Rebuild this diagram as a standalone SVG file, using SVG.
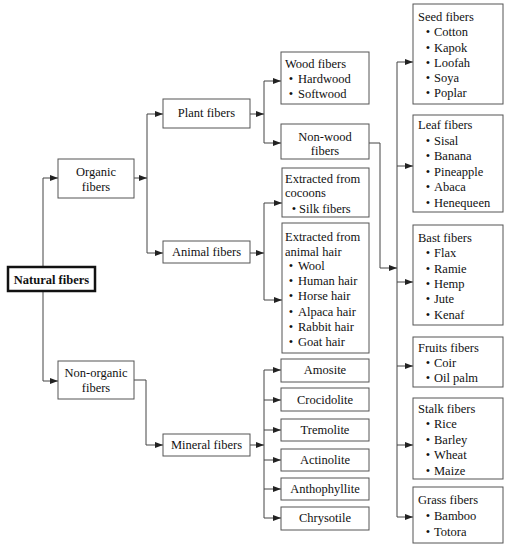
<svg xmlns="http://www.w3.org/2000/svg" width="509" height="550" viewBox="0 0 509 550">
<style>
.c{text-anchor:middle}
.b{font-weight:bold}
rect{fill:#fff;stroke:#555;stroke-width:1}
.thick{stroke:#111;stroke-width:2.5}
.conn path{fill:none;stroke:#444;stroke-width:1}
</style>
<defs>
<marker id="ar" viewBox="0 0 8 6" refX="8" refY="3" markerWidth="8" markerHeight="6" markerUnits="userSpaceOnUse" orient="auto"><path d="M0,0L8,3L0,6z" fill="#222"/></marker>
</defs>
<rect x="0" y="0" width="509" height="550" style="fill:#fff;stroke:none"/>
<g class="conn">
<path d="M43,267V178H58" marker-end="url(#ar)"/>
<path d="M43,291V381H58" marker-end="url(#ar)"/>
<path d="M134,178H147" marker-end="url(#ar)"/>
<path d="M147,114V253"/>
<path d="M147,114H163" marker-end="url(#ar)"/>
<path d="M147,253H163" marker-end="url(#ar)"/>
<path d="M250,114H264" marker-end="url(#ar)"/>
<path d="M264,81V143"/>
<path d="M264,81H281" marker-end="url(#ar)"/>
<path d="M264,143H281" marker-end="url(#ar)"/>
<path d="M250,253H264" marker-end="url(#ar)"/>
<path d="M264,203V300"/>
<path d="M264,203H282" marker-end="url(#ar)"/>
<path d="M264,300H282" marker-end="url(#ar)"/>
<path d="M134,380H146V445H163" marker-end="url(#ar)"/>
<path d="M250,445H264" marker-end="url(#ar)"/>
<path d="M264,370V518"/>
<path d="M264,370H281" marker-end="url(#ar)"/>
<path d="M264,400H281" marker-end="url(#ar)"/>
<path d="M264,430H281" marker-end="url(#ar)"/>
<path d="M264,460H281" marker-end="url(#ar)"/>
<path d="M264,489H281" marker-end="url(#ar)"/>
<path d="M264,518H281" marker-end="url(#ar)"/>
<path d="M369,143H380V268H397" marker-end="url(#ar)"/>
<path d="M397,62V517"/>
<path d="M397,62H413" marker-end="url(#ar)"/>
<path d="M397,166H413" marker-end="url(#ar)"/>
<path d="M397,282H413" marker-end="url(#ar)"/>
<path d="M397,366H413" marker-end="url(#ar)"/>
<path d="M397,445H413" marker-end="url(#ar)"/>
<path d="M397,517H413" marker-end="url(#ar)"/>
</g>
<g id="natural"><rect class="thick" x="8" y="267" width="87" height="24"/><text style="font-family:'Liberation Serif',serif;font-size:12.5px;fill:#111" class="c b" x="51.5" y="284">Natural fibers</text></g>
<g id="organic"><rect x="58" y="159" width="76" height="39"/><text style="font-family:'Liberation Serif',serif;font-size:12.5px;fill:#111" class="c" x="96" y="176">Organic</text><text style="font-family:'Liberation Serif',serif;font-size:12.5px;fill:#111" class="c" x="96" y="191">fibers</text></g>
<g id="nonorganic"><rect x="58" y="361" width="76" height="38"/><text style="font-family:'Liberation Serif',serif;font-size:12.5px;fill:#111" class="c" x="96" y="377">Non-organic</text><text style="font-family:'Liberation Serif',serif;font-size:12.5px;fill:#111" class="c" x="96" y="392">fibers</text></g>
<g id="plant"><rect x="163" y="99" width="87" height="29"/><text style="font-family:'Liberation Serif',serif;font-size:12.5px;fill:#111" class="c" x="206.5" y="117">Plant fibers</text></g>
<g id="animal"><rect x="163" y="241" width="87" height="22"/><text style="font-family:'Liberation Serif',serif;font-size:12.5px;fill:#111" class="c" x="206.5" y="256">Animal fibers</text></g>
<g id="mineral"><rect x="163" y="434" width="87" height="22"/><text style="font-family:'Liberation Serif',serif;font-size:12.5px;fill:#111" class="c" x="206.5" y="449">Mineral fibers</text></g>
<g id="wood"><rect x="281" y="52" width="88" height="52"/><text style="font-family:'Liberation Serif',serif;font-size:12.5px;fill:#111" x="285" y="68">Wood fibers</text><text style="font-family:'Liberation Serif',serif;font-size:12.5px;fill:#111" x="291" y="83" class="c">•</text><text style="font-family:'Liberation Serif',serif;font-size:12.5px;fill:#111" x="298" y="83">Hardwood</text><text style="font-family:'Liberation Serif',serif;font-size:12.5px;fill:#111" x="291" y="98" class="c">•</text><text style="font-family:'Liberation Serif',serif;font-size:12.5px;fill:#111" x="298" y="98">Softwood</text></g>
<g id="nonwood"><rect x="281" y="124" width="88" height="35"/><text style="font-family:'Liberation Serif',serif;font-size:12.5px;fill:#111" class="c" x="325" y="141">Non-wood</text><text style="font-family:'Liberation Serif',serif;font-size:12.5px;fill:#111" class="c" x="325" y="155">fibers</text></g>
<g id="cocoons"><rect x="282" y="168" width="87" height="49"/><text style="font-family:'Liberation Serif',serif;font-size:12.5px;fill:#111" x="285" y="183">Extracted from</text><text style="font-family:'Liberation Serif',serif;font-size:12.5px;fill:#111" x="285" y="197">cocoons</text><text style="font-family:'Liberation Serif',serif;font-size:12.5px;fill:#111" x="294" y="213" class="c">•</text><text style="font-family:'Liberation Serif',serif;font-size:12.5px;fill:#111" x="299" y="213">Silk fibers</text></g>
<g id="hair"><rect x="282" y="223" width="87" height="130"/><text style="font-family:'Liberation Serif',serif;font-size:12.5px;fill:#111" x="285" y="241">Extracted from</text><text style="font-family:'Liberation Serif',serif;font-size:12.5px;fill:#111" x="285" y="256">animal hair</text>
<text style="font-family:'Liberation Serif',serif;font-size:12.5px;fill:#111" x="291" y="270" class="c">•</text><text style="font-family:'Liberation Serif',serif;font-size:12.5px;fill:#111" x="298" y="270">Wool</text>
<text style="font-family:'Liberation Serif',serif;font-size:12.5px;fill:#111" x="291" y="285" class="c">•</text><text style="font-family:'Liberation Serif',serif;font-size:12.5px;fill:#111" x="298" y="285">Human hair</text>
<text style="font-family:'Liberation Serif',serif;font-size:12.5px;fill:#111" x="291" y="300" class="c">•</text><text style="font-family:'Liberation Serif',serif;font-size:12.5px;fill:#111" x="298" y="300">Horse hair</text>
<text style="font-family:'Liberation Serif',serif;font-size:12.5px;fill:#111" x="291" y="316" class="c">•</text><text style="font-family:'Liberation Serif',serif;font-size:12.5px;fill:#111" x="298" y="316">Alpaca hair</text>
<text style="font-family:'Liberation Serif',serif;font-size:12.5px;fill:#111" x="291" y="331" class="c">•</text><text style="font-family:'Liberation Serif',serif;font-size:12.5px;fill:#111" x="298" y="331">Rabbit hair</text>
<text style="font-family:'Liberation Serif',serif;font-size:12.5px;fill:#111" x="291" y="346" class="c">•</text><text style="font-family:'Liberation Serif',serif;font-size:12.5px;fill:#111" x="298" y="346">Goat hair</text></g>
<g id="amosite"><rect x="281" y="359" width="88" height="23"/><text style="font-family:'Liberation Serif',serif;font-size:12.5px;fill:#111" class="c" x="325" y="374">Amosite</text></g>
<g id="crocidolite"><rect x="281" y="388" width="88" height="23"/><text style="font-family:'Liberation Serif',serif;font-size:12.5px;fill:#111" class="c" x="325" y="404">Crocidolite</text></g>
<g id="tremolite"><rect x="281" y="419" width="88" height="22"/><text style="font-family:'Liberation Serif',serif;font-size:12.5px;fill:#111" class="c" x="325" y="434">Tremolite</text></g>
<g id="actinolite"><rect x="281" y="449" width="88" height="22"/><text style="font-family:'Liberation Serif',serif;font-size:12.5px;fill:#111" class="c" x="325" y="464">Actinolite</text></g>
<g id="anthophyllite"><rect x="281" y="478" width="88" height="22"/><text style="font-family:'Liberation Serif',serif;font-size:12.5px;fill:#111" class="c" x="325" y="493">Anthophyllite</text></g>
<g id="chrysotile"><rect x="281" y="507" width="88" height="23"/><text style="font-family:'Liberation Serif',serif;font-size:12.5px;fill:#111" class="c" x="325" y="522">Chrysotile</text></g>
<g id="seed"><rect x="413" y="4" width="90" height="100"/><text style="font-family:'Liberation Serif',serif;font-size:12.5px;fill:#111" x="418" y="21">Seed fibers</text>
<text style="font-family:'Liberation Serif',serif;font-size:12.5px;fill:#111" x="428" y="36" class="c">•</text><text style="font-family:'Liberation Serif',serif;font-size:12.5px;fill:#111" x="434" y="36">Cotton</text>
<text style="font-family:'Liberation Serif',serif;font-size:12.5px;fill:#111" x="428" y="52" class="c">•</text><text style="font-family:'Liberation Serif',serif;font-size:12.5px;fill:#111" x="434" y="52">Kapok</text>
<text style="font-family:'Liberation Serif',serif;font-size:12.5px;fill:#111" x="428" y="67" class="c">•</text><text style="font-family:'Liberation Serif',serif;font-size:12.5px;fill:#111" x="434" y="67">Loofah</text>
<text style="font-family:'Liberation Serif',serif;font-size:12.5px;fill:#111" x="428" y="82" class="c">•</text><text style="font-family:'Liberation Serif',serif;font-size:12.5px;fill:#111" x="434" y="82">Soya</text>
<text style="font-family:'Liberation Serif',serif;font-size:12.5px;fill:#111" x="428" y="97" class="c">•</text><text style="font-family:'Liberation Serif',serif;font-size:12.5px;fill:#111" x="434" y="97">Poplar</text></g>
<g id="leaf"><rect x="413" y="115" width="90" height="97"/><text style="font-family:'Liberation Serif',serif;font-size:12.5px;fill:#111" x="418" y="129">Leaf fibers</text>
<text style="font-family:'Liberation Serif',serif;font-size:12.5px;fill:#111" x="428" y="145" class="c">•</text><text style="font-family:'Liberation Serif',serif;font-size:12.5px;fill:#111" x="434" y="145">Sisal</text>
<text style="font-family:'Liberation Serif',serif;font-size:12.5px;fill:#111" x="428" y="160" class="c">•</text><text style="font-family:'Liberation Serif',serif;font-size:12.5px;fill:#111" x="434" y="160">Banana</text>
<text style="font-family:'Liberation Serif',serif;font-size:12.5px;fill:#111" x="428" y="176" class="c">•</text><text style="font-family:'Liberation Serif',serif;font-size:12.5px;fill:#111" x="434" y="176">Pineapple</text>
<text style="font-family:'Liberation Serif',serif;font-size:12.5px;fill:#111" x="428" y="191" class="c">•</text><text style="font-family:'Liberation Serif',serif;font-size:12.5px;fill:#111" x="434" y="191">Abaca</text>
<text style="font-family:'Liberation Serif',serif;font-size:12.5px;fill:#111" x="428" y="207" class="c">•</text><text style="font-family:'Liberation Serif',serif;font-size:12.5px;fill:#111" x="434" y="207">Henequeen</text></g>
<g id="bast"><rect x="413" y="225" width="90" height="100"/><text style="font-family:'Liberation Serif',serif;font-size:12.5px;fill:#111" x="418" y="242">Bast fibers</text>
<text style="font-family:'Liberation Serif',serif;font-size:12.5px;fill:#111" x="428" y="257" class="c">•</text><text style="font-family:'Liberation Serif',serif;font-size:12.5px;fill:#111" x="434" y="257">Flax</text>
<text style="font-family:'Liberation Serif',serif;font-size:12.5px;fill:#111" x="428" y="273" class="c">•</text><text style="font-family:'Liberation Serif',serif;font-size:12.5px;fill:#111" x="434" y="273">Ramie</text>
<text style="font-family:'Liberation Serif',serif;font-size:12.5px;fill:#111" x="428" y="288" class="c">•</text><text style="font-family:'Liberation Serif',serif;font-size:12.5px;fill:#111" x="434" y="288">Hemp</text>
<text style="font-family:'Liberation Serif',serif;font-size:12.5px;fill:#111" x="428" y="303" class="c">•</text><text style="font-family:'Liberation Serif',serif;font-size:12.5px;fill:#111" x="434" y="303">Jute</text>
<text style="font-family:'Liberation Serif',serif;font-size:12.5px;fill:#111" x="428" y="319" class="c">•</text><text style="font-family:'Liberation Serif',serif;font-size:12.5px;fill:#111" x="434" y="319">Kenaf</text></g>
<g id="fruits"><rect x="413" y="337" width="90" height="50"/><text style="font-family:'Liberation Serif',serif;font-size:12.5px;fill:#111" x="418" y="352">Fruits fibers</text>
<text style="font-family:'Liberation Serif',serif;font-size:12.5px;fill:#111" x="428" y="367" class="c">•</text><text style="font-family:'Liberation Serif',serif;font-size:12.5px;fill:#111" x="434" y="367">Coir</text>
<text style="font-family:'Liberation Serif',serif;font-size:12.5px;fill:#111" x="428" y="382" class="c">•</text><text style="font-family:'Liberation Serif',serif;font-size:12.5px;fill:#111" x="434" y="382">Oil palm</text></g>
<g id="stalk"><rect x="413" y="398" width="90" height="81"/><text style="font-family:'Liberation Serif',serif;font-size:12.5px;fill:#111" x="418" y="413">Stalk fibers</text>
<text style="font-family:'Liberation Serif',serif;font-size:12.5px;fill:#111" x="428" y="428" class="c">•</text><text style="font-family:'Liberation Serif',serif;font-size:12.5px;fill:#111" x="434" y="428">Rice</text>
<text style="font-family:'Liberation Serif',serif;font-size:12.5px;fill:#111" x="428" y="444" class="c">•</text><text style="font-family:'Liberation Serif',serif;font-size:12.5px;fill:#111" x="434" y="444">Barley</text>
<text style="font-family:'Liberation Serif',serif;font-size:12.5px;fill:#111" x="428" y="459" class="c">•</text><text style="font-family:'Liberation Serif',serif;font-size:12.5px;fill:#111" x="434" y="459">Wheat</text>
<text style="font-family:'Liberation Serif',serif;font-size:12.5px;fill:#111" x="428" y="475" class="c">•</text><text style="font-family:'Liberation Serif',serif;font-size:12.5px;fill:#111" x="434" y="475">Maize</text></g>
<g id="grass"><rect x="413" y="487" width="90" height="56"/><text style="font-family:'Liberation Serif',serif;font-size:12.5px;fill:#111" x="418" y="504">Grass fibers</text>
<text style="font-family:'Liberation Serif',serif;font-size:12.5px;fill:#111" x="428" y="520" class="c">•</text><text style="font-family:'Liberation Serif',serif;font-size:12.5px;fill:#111" x="434" y="520">Bamboo</text>
<text style="font-family:'Liberation Serif',serif;font-size:12.5px;fill:#111" x="428" y="536" class="c">•</text><text style="font-family:'Liberation Serif',serif;font-size:12.5px;fill:#111" x="434" y="536">Totora</text></g>
</svg>
